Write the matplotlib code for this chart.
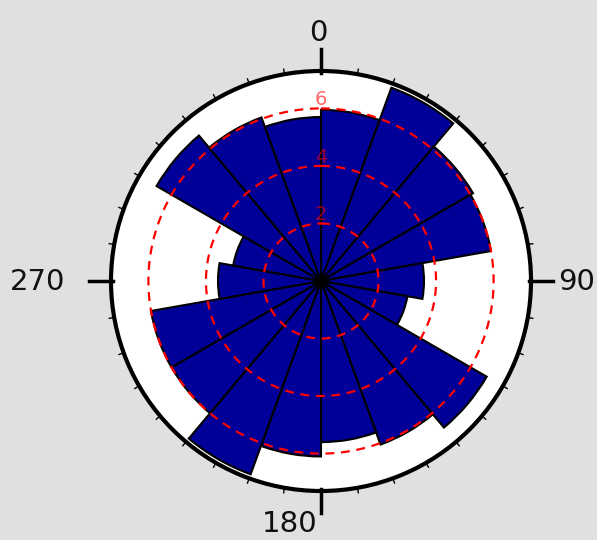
import numpy as np
import matplotlib
matplotlib.use("Agg")
import matplotlib.pyplot as plt

sector_start = [0, 20, 40, 60, 80, 100, 120, 140, 160,
                180, 200, 220, 240, 260, 280, 300, 320, 340]
sector_value = [5.95, 7.15, 6.1, 6.0, 3.58, 3.05, 6.65, 6.05, 5.6,
                6.1, 7.15, 6.0, 6.0, 3.58, 3.1, 6.6, 6.05, 5.7]
sector_width = 20

ring_values = [2, 4, 6]
compass_labels = ["0", "90", "180", "270"]
r_max = 7.3

BG = "#E0E0E0"
BAR = "#000099"

fig = plt.figure(figsize=(5.97, 5.40), dpi=100, facecolor=BG)
ax = fig.add_axes([111 / 597, 49 / 540, 420 / 597, 420 / 540], projection="polar")
ax.set_facecolor("white")
ax.set_theta_zero_location("N")
ax.set_theta_direction(-1)

ax.bar(np.deg2rad(sector_start), sector_value, width=np.deg2rad(sector_width),
       align="edge", color=BAR, edgecolor="black", linewidth=1.5, zorder=2)

# dashed reference rings
th = np.linspace(0, 2 * np.pi, 400)
for rv in ring_values:
    ax.plot(th, np.full_like(th, rv), color="red", lw=1.6, ls=(0, (4, 3)), zorder=3)
    ax.text(0, rv + 0.3, str(rv), color="red", alpha=0.6, fontsize=14,
            ha="center", va="center", zorder=4)

# hub
ax.plot([0], [0], "o", color="black", ms=9, zorder=5)

ax.set_ylim(0, r_max)
ax.set_xticks([])
ax.set_yticks([])
ax.grid(False)
ax.spines["polar"].set_linewidth(3)
ax.spines["polar"].set_color("black")

# outer tick marks every 10 degrees, long ones at the cardinal points
for deg in range(0, 360, 10):
    t = np.deg2rad(deg)
    if deg % 90 == 0:
        ax.plot([t, t], [r_max * 0.99, r_max * (1 + 22 / 210)], color="black",
                lw=2.5, clip_on=False, zorder=6)
    else:
        ax.plot([t, t], [r_max, r_max * (1 + 5 / 210)], color="black",
                lw=1.0, clip_on=False, zorder=6)

# cardinal labels, placed in axes fraction
label_pos = [(0.493, 1.090), (1.108, 0.498), (0.426, -0.079), (-0.176, 0.498)]
for lab, (lx, ly) in zip(compass_labels, label_pos):
    ax.text(lx, ly, lab, transform=ax.transAxes, fontsize=21, color="#111111",
            ha="center", va="center")

fig.savefig("out.png", dpi=100, facecolor=BG)
